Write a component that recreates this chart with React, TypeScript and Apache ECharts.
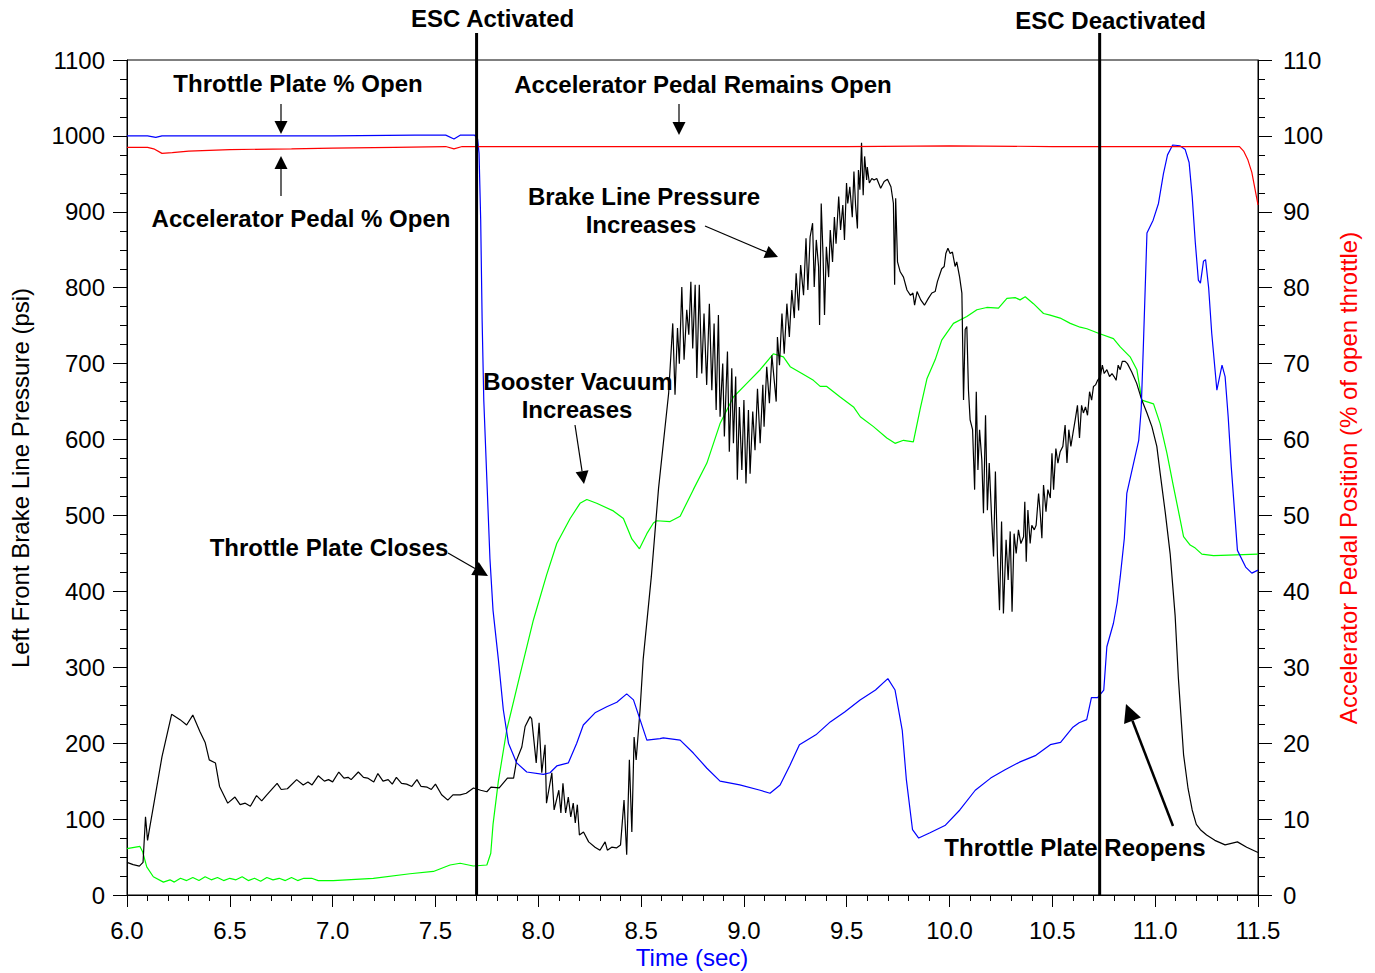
import React, { useEffect, useRef } from "react";
import * as echarts from "echarts";

// Time (sec) vs Left Front Brake Line Pressure (psi)
const brakePressure: [number, number][] = [
  [6.0, 43], [6.03, 40], [6.06, 38], [6.078, 43], [6.09, 103], [6.1, 72], [6.11, 88], [6.128, 116],
  [6.17, 182], [6.217, 238], [6.258, 231], [6.29, 224], [6.32, 237], [6.355, 215], [6.38, 201],
  [6.4, 178], [6.43, 174], [6.45, 143], [6.49, 121], [6.525, 129], [6.55, 119], [6.575, 121],
  [6.6, 117], [6.63, 131], [6.655, 124], [6.68, 132], [6.73, 147], [6.75, 139], [6.78, 140],
  [6.825, 152], [6.857, 145], [6.88, 149], [6.9, 145], [6.93, 157], [6.96, 150], [6.98, 152],
  [7.0, 149], [7.03, 162], [7.055, 154], [7.075, 155], [7.09, 152], [7.125, 162], [7.15, 155],
  [7.17, 154], [7.2, 149], [7.22, 160], [7.245, 150], [7.27, 152], [7.29, 146], [7.31, 155],
  [7.335, 147], [7.36, 146], [7.385, 143], [7.41, 152], [7.43, 143], [7.46, 142], [7.48, 139],
  [7.5, 146], [7.53, 132], [7.56, 125], [7.585, 132], [7.62, 132], [7.65, 134], [7.685, 141],
  [7.72, 138], [7.75, 136], [7.77, 142], [7.81, 141], [7.85, 154], [7.88, 154], [7.895, 178],
  [7.92, 195], [7.936, 222], [7.96, 235], [7.968, 232], [7.99, 174], [8.004, 227], [8.017, 161],
  [8.033, 198], [8.04, 121], [8.066, 161], [8.077, 112], [8.1, 138], [8.11, 108], [8.12, 147],
  [8.133, 108], [8.146, 129], [8.158, 103], [8.17, 121], [8.18, 95], [8.19, 119], [8.2, 79],
  [8.22, 83], [8.245, 70], [8.276, 63], [8.3, 59], [8.325, 70], [8.336, 59], [8.357, 63],
  [8.38, 62], [8.4, 66], [8.417, 125], [8.43, 53], [8.443, 178], [8.455, 83], [8.466, 208],
  [8.476, 178], [8.495, 244], [8.51, 310], [8.55, 420], [8.585, 536], [8.634, 661],
  [8.654, 753], [8.665, 659], [8.677, 747], [8.686, 700], [8.698, 801], [8.709, 705], [8.722, 771],
  [8.732, 738], [8.742, 808], [8.751, 720], [8.763, 804], [8.771, 681], [8.783, 804], [8.795, 687],
  [8.806, 766], [8.819, 672], [8.832, 779], [8.844, 665], [8.855, 753], [8.865, 639], [8.876, 764],
  [8.884, 630], [8.897, 700], [8.905, 604], [8.92, 716], [8.929, 584], [8.941, 694], [8.949, 595],
  [8.96, 683], [8.968, 547], [8.978, 643], [8.99, 560], [9.0, 652], [9.01, 542], [9.022, 639],
  [9.03, 555], [9.043, 637], [9.054, 586], [9.066, 667], [9.079, 595], [9.092, 672], [9.098, 617],
  [9.111, 696], [9.124, 648], [9.136, 711], [9.157, 650], [9.163, 735], [9.173, 698], [9.185, 766],
  [9.196, 713], [9.209, 779], [9.221, 735], [9.233, 797], [9.245, 760], [9.254, 819], [9.266, 770],
  [9.276, 830], [9.29, 790], [9.302, 865], [9.311, 797], [9.322, 867], [9.334, 885], [9.342, 801],
  [9.352, 863], [9.363, 828], [9.368, 751], [9.376, 911], [9.385, 841], [9.392, 764], [9.401, 854],
  [9.412, 814], [9.42, 876], [9.431, 834], [9.44, 893], [9.448, 858], [9.461, 920], [9.47, 876],
  [9.481, 909], [9.489, 863], [9.499, 938], [9.505, 911], [9.515, 933], [9.527, 893], [9.535, 953],
  [9.543, 909], [9.552, 878], [9.557, 955], [9.564, 929], [9.572, 991], [9.58, 922], [9.587, 973],
  [9.597, 942], [9.6, 959], [9.61, 938], [9.622, 944], [9.633, 942], [9.646, 944], [9.665, 931],
  [9.682, 940], [9.698, 943], [9.715, 933], [9.727, 911], [9.733, 804], [9.738, 918], [9.747, 834],
  [9.76, 821], [9.776, 814], [9.793, 797], [9.81, 790], [9.822, 793], [9.83, 777], [9.842, 795],
  [9.86, 784], [9.878, 777], [9.897, 786], [9.914, 793], [9.93, 795], [9.941, 808], [9.962, 825],
  [9.974, 828], [9.982, 845], [9.992, 852], [10.003, 845], [10.014, 847], [10.027, 828],
  [10.035, 834], [10.049, 814], [10.06, 793], [10.068, 652], [10.076, 745], [10.084, 749],
  [10.092, 665], [10.1, 626], [10.112, 613], [10.122, 534], [10.13, 663], [10.138, 560],
  [10.146, 613], [10.157, 573], [10.165, 503], [10.175, 632], [10.184, 507], [10.193, 569],
  [10.205, 494], [10.214, 446], [10.223, 558], [10.233, 446], [10.243, 375], [10.253, 492],
  [10.262, 371], [10.275, 468], [10.285, 415], [10.295, 479], [10.304, 373], [10.314, 476],
  [10.324, 450], [10.335, 481], [10.347, 463], [10.36, 472], [10.366, 518], [10.373, 439],
  [10.381, 507], [10.392, 463], [10.4, 487], [10.412, 481], [10.421, 487], [10.433, 529],
  [10.441, 503], [10.449, 470], [10.457, 540], [10.469, 505], [10.478, 534], [10.49, 523],
  [10.498, 582], [10.506, 534], [10.517, 588], [10.527, 569], [10.538, 584], [10.551, 591],
  [10.562, 619], [10.571, 569], [10.58, 613], [10.59, 591], [10.6, 608], [10.611, 626],
  [10.622, 645], [10.632, 602], [10.642, 645], [10.651, 635], [10.661, 643], [10.671, 632],
  [10.681, 663], [10.691, 652], [10.7, 670], [10.71, 672], [10.72, 678], [10.733, 683],
  [10.743, 698], [10.752, 687], [10.765, 692], [10.778, 683], [10.79, 687], [10.8, 683],
  [10.81, 678], [10.82, 698], [10.83, 692], [10.84, 703], [10.854, 703], [10.865, 700],
  [10.886, 689], [10.91, 674], [10.935, 652], [10.96, 635], [10.984, 617], [11.008, 591],
  [11.024, 556], [11.049, 504], [11.073, 449], [11.097, 368], [11.113, 285], [11.138, 185],
  [11.16, 140], [11.18, 112], [11.2, 93], [11.22, 86], [11.25, 79], [11.29, 72], [11.34, 66],
  [11.4, 70], [11.445, 63], [11.5, 56],
];

// Throttle plate % open (right axis)
const throttlePlate: [number, number][] = [
  [6.0, 100], [6.1, 100], [6.14, 99.8], [6.17, 100], [6.5, 100], [7.0, 100], [7.4, 100.1],
  [7.55, 100.1], [7.59, 99.6], [7.62, 100.1], [7.69, 100.1], [7.705, 99.6], [7.712, 97.7],
  [7.72, 88.9], [7.727, 75.7], [7.735, 65.2], [7.75, 54.7], [7.765, 44.3], [7.78, 37.5],
  [7.806, 31], [7.83, 24.4], [7.855, 20], [7.895, 17.4], [7.944, 16.2], [8.025, 15.9],
  [8.057, 16.1], [8.09, 17.0], [8.146, 17.4], [8.187, 20], [8.219, 22.4], [8.276, 24],
  [8.333, 24.8], [8.382, 25.4], [8.43, 26.5], [8.463, 25.7], [8.495, 23.1], [8.528, 20.4],
  [8.592, 20.6], [8.608, 20.7], [8.69, 20.4], [8.754, 18.7], [8.82, 16.7], [8.884, 15],
  [8.98, 14.5], [9.079, 13.8], [9.127, 13.4], [9.176, 14.5], [9.224, 17.1], [9.27, 19.8],
  [9.35, 21.1], [9.42, 22.8], [9.49, 24.1], [9.565, 25.7], [9.64, 27], [9.7, 28.5],
  [9.735, 27], [9.77, 21.7], [9.79, 15.2], [9.82, 8.6], [9.85, 7.5], [9.905, 8.2], [9.98, 9.2],
  [10.05, 11.2], [10.125, 13.8], [10.2, 15.4], [10.27, 16.5], [10.34, 17.5], [10.42, 18.4],
  [10.49, 19.8], [10.54, 20.1], [10.6, 22.1], [10.63, 22.7], [10.667, 23.1], [10.69, 26],
  [10.72, 26], [10.75, 27], [10.765, 32.7], [10.797, 35.8], [10.815, 38.5], [10.83, 41.9],
  [10.85, 47], [10.862, 52.9], [10.895, 56.9], [10.92, 59.9], [10.932, 64], [10.943, 72.7],
  [10.96, 87.2], [10.99, 88.9], [11.016, 91.1], [11.04, 95], [11.06, 97.5], [11.085, 98.8],
  [11.12, 98.7], [11.146, 98.2], [11.165, 96.5], [11.18, 92], [11.195, 86], [11.21, 81],
  [11.22, 80.6], [11.235, 83.5], [11.245, 83.7], [11.26, 80], [11.275, 74], [11.3, 66.5],
  [11.315, 68.5], [11.325, 69.8], [11.34, 68.3], [11.355, 63], [11.37, 56.4], [11.4, 45.4],
  [11.44, 43.2], [11.47, 42.4], [11.5, 42.8],
];

// Accelerator pedal % open (right axis)
const acceleratorPedal: [number, number][] = [
  [6.0, 98.5], [6.1, 98.5], [6.13, 98.3], [6.17, 97.7], [6.22, 97.8], [6.3, 98.0], [6.5, 98.2],
  [6.8, 98.3], [7.0, 98.4], [7.3, 98.5], [7.55, 98.6], [7.59, 98.3], [7.63, 98.6], [8.0, 98.6],
  [8.5, 98.6], [9.0, 98.6], [9.5, 98.6], [10.0, 98.7], [10.5, 98.6], [11.0, 98.6], [11.41, 98.6],
  [11.43, 98.0], [11.45, 96.9], [11.47, 95.2], [11.5, 90.9],
];

// Booster vacuum (plotted on left scale)
const boosterVacuum: [number, number][] = [
  [6.0, 61], [6.063, 64], [6.076, 57], [6.096, 37], [6.128, 24], [6.177, 17], [6.209, 20],
  [6.23, 17], [6.26, 22], [6.29, 19], [6.32, 23], [6.35, 19], [6.38, 24], [6.41, 20], [6.44, 23],
  [6.47, 19], [6.5, 22], [6.53, 20], [6.56, 24], [6.59, 19], [6.62, 22], [6.65, 18], [6.68, 23],
  [6.71, 20], [6.74, 22], [6.77, 19], [6.8, 23], [6.83, 19], [6.86, 22], [6.898, 22], [6.93, 19],
  [7.003, 19], [7.198, 22], [7.376, 28], [7.49, 31], [7.571, 39.5], [7.62, 41.8], [7.684, 38.2],
  [7.75, 39.5], [7.769, 55], [7.78, 93], [7.806, 150], [7.847, 218], [7.911, 290], [7.976, 362],
  [8.041, 422], [8.09, 463], [8.155, 496], [8.203, 516], [8.236, 521], [8.284, 516],
  [8.365, 506], [8.414, 496], [8.455, 469], [8.492, 456], [8.528, 476], [8.56, 490],
  [8.576, 493], [8.641, 492], [8.69, 499], [8.754, 534], [8.82, 569], [8.884, 621], [8.949, 656],
  [9.014, 674], [9.079, 692], [9.143, 713], [9.192, 709], [9.225, 696], [9.282, 687],
  [9.338, 678], [9.371, 670], [9.403, 670], [9.468, 656], [9.533, 643], [9.566, 630],
  [9.63, 617], [9.695, 602], [9.735, 595], [9.776, 599], [9.824, 597], [9.857, 640],
  [9.89, 680], [9.93, 705], [9.962, 731], [10.019, 753], [10.084, 762], [10.133, 771],
  [10.181, 774], [10.238, 773], [10.279, 786], [10.319, 787], [10.343, 784], [10.368, 788],
  [10.408, 779], [10.457, 766], [10.489, 764], [10.538, 760], [10.587, 753], [10.635, 748],
  [10.668, 746], [10.724, 740], [10.797, 733], [10.83, 722], [10.878, 709], [10.911, 692],
  [10.935, 652], [10.992, 647], [11.024, 621], [11.057, 582], [11.089, 538], [11.122, 494],
  [11.138, 472], [11.17, 461], [11.195, 457], [11.227, 449], [11.284, 447], [11.5, 449],
];

const escEvents: number[] = [7.7, 10.73];
const escLabels: string[] = ["ESC Activated", "ESC Deactivated"];

const FONT = "'Liberation Sans', Arial, Helvetica, sans-serif";

function arrow(x1: number, y1: number, x2: number, y2: number, w = 1.2, head = 13) {
  const dx = x2 - x1, dy = y2 - y1;
  const len = Math.hypot(dx, dy);
  const ux = dx / len, uy = dy / len;
  const bx = x2 - ux * head, by = y2 - uy * head;
  const px = -uy, py = ux, hw = head * 0.5;
  return [
    { type: "line", shape: { x1, y1, x2: bx, y2: by }, style: { stroke: "#000", lineWidth: w } },
    {
      type: "polygon",
      shape: { points: [[x2, y2], [bx + px * hw, by + py * hw], [bx - px * hw, by - py * hw]] },
      style: { fill: "#000" },
    },
  ];
}

function label(text: string, x: number, y: number, extra: any = {}) {
  return {
    type: "text",
    x,
    y,
    style: {
      text,
      fill: "#000",
      font: `bold 24px ${FONT}`,
      align: "center",
      verticalAlign: "middle",
      ...extra,
    },
  };
}

export default function App() {
  const ref = useRef<HTMLDivElement>(null);
  useEffect(() => {
    document.body.style.margin = "0";
    if (!ref.current) return;
    const chart = echarts.init(ref.current, undefined, { renderer: "svg" });
    const axisFont = { fontSize: 24, color: "#000", fontFamily: FONT };
    const lineSeries = (name: string, data: [number, number][], color: string, yAxisIndex: number) => ({
      name,
      type: "line",
      data,
      yAxisIndex,
      showSymbol: false,
      symbol: "none",
      lineStyle: { color, width: 1.2 },
      itemStyle: { color },
      z: 3,
    });
    chart.setOption({
      animation: false,
      backgroundColor: "#fff",
      grid: { left: 127, right: 117, top: 60, bottom: 78, show: true, borderColor: "#000", borderWidth: 1 },
      xAxis: {
        type: "value",
        min: 6,
        max: 11.5,
        interval: 0.5,
        axisLine: { lineStyle: { color: "#000", width: 1 } },
        axisTick: { length: 12, lineStyle: { color: "#000" } },
        minorTick: { show: true, splitNumber: 5, length: 6, lineStyle: { color: "#000" } },
        splitLine: { show: false },
        axisLabel: { ...axisFont, margin: 23, formatter: (v: number) => v.toFixed(1) },
      },
      yAxis: [
        {
          type: "value",
          position: "left",
          min: 0,
          max: 1100,
          interval: 100,
          axisLine: { show: true, lineStyle: { color: "#000", width: 1 } },
          axisTick: { show: true, length: 14, lineStyle: { color: "#000" } },
          minorTick: { show: true, splitNumber: 4, length: 7, lineStyle: { color: "#000" } },
          splitLine: { show: false },
          axisLabel: { ...axisFont, margin: 22, formatter: (v: number) => String(v) },
        },
        {
          type: "value",
          position: "right",
          min: 0,
          max: 110,
          interval: 10,
          axisLine: { show: true, lineStyle: { color: "#000", width: 1 } },
          axisTick: { show: true, length: 14, lineStyle: { color: "#000" } },
          minorTick: { show: true, splitNumber: 4, length: 7, lineStyle: { color: "#000" } },
          splitLine: { show: false },
          axisLabel: { ...axisFont, margin: 25, formatter: (v: number) => String(v) },
        },
      ],
      series: [
        lineSeries("Booster Vacuum", boosterVacuum, "#00ff00", 0),
        lineSeries("Brake Line Pressure", brakePressure, "#000000", 0),
        lineSeries("Throttle Plate % Open", throttlePlate, "#0000ff", 1),
        lineSeries("Accelerator Pedal % Open", acceleratorPedal, "#ff0000", 1),
      ],
    });

    const bottomY = chart.convertToPixel({ yAxisIndex: 0 }, 0) as number;
    const escX = escEvents.map((t) => chart.convertToPixel({ xAxisIndex: 0 }, t) as number);

    const graphic: any[] = [];
    escX.forEach((x) => {
      graphic.push({ type: "line", shape: { x1: x, y1: 33, x2: x, y2: bottomY }, style: { stroke: "#000", lineWidth: 3 }, z: 10 });
    });
    graphic.push(label(escLabels[0], escX[0] + 16, 18));
    graphic.push(label(escLabels[1], escX[1] + 11, 20));

    graphic.push(label("Throttle Plate % Open", 298, 83));
    graphic.push(...arrow(281, 104, 281, 134));
    graphic.push(label("Accelerator Pedal % Open", 301, 218));
    graphic.push(...arrow(281, 196, 281, 156));
    graphic.push(label("Accelerator Pedal Remains Open", 703, 84));
    graphic.push(...arrow(679, 104, 679, 135));
    graphic.push(label("Brake Line Pressure", 644, 196));
    graphic.push(label("Increases", 641, 224));
    graphic.push(...arrow(705, 226, 778, 257));
    graphic.push(label("Booster Vacuum", 578, 381));
    graphic.push(label("Increases", 577, 409));
    graphic.push(...arrow(575, 425, 584, 484));
    graphic.push(label("Throttle Plate Closes", 329, 547));
    graphic.push(...arrow(448, 553, 488, 576, 1.2, 15));
    graphic.push(label("Throttle Plate Reopens", 1075, 847));
    graphic.push(...arrow(1173, 826, 1126, 704, 2.5, 18));

    graphic.push({
      type: "text",
      x: 20,
      y: 478,
      rotation: Math.PI / 2,
      style: { text: "Left Front Brake Line Pressure (psi)", fill: "#000", font: `24px ${FONT}`, align: "center", verticalAlign: "middle" },
    });
    graphic.push({
      type: "text",
      x: 1348,
      y: 478,
      rotation: Math.PI / 2,
      style: { text: "Accelerator Pedal Position (% of open throttle)", fill: "#ff0000", font: `24px ${FONT}`, align: "center", verticalAlign: "middle" },
    });
    graphic.push({
      type: "text",
      x: 692,
      y: 957,
      style: { text: "Time (sec)", fill: "#0000ff", font: `24px ${FONT}`, align: "center", verticalAlign: "middle" },
    });

    chart.setOption({ graphic });
    return () => chart.dispose();
  }, []);
  return <div ref={ref} style={{ width: 1375, height: 973 }} />;
}
